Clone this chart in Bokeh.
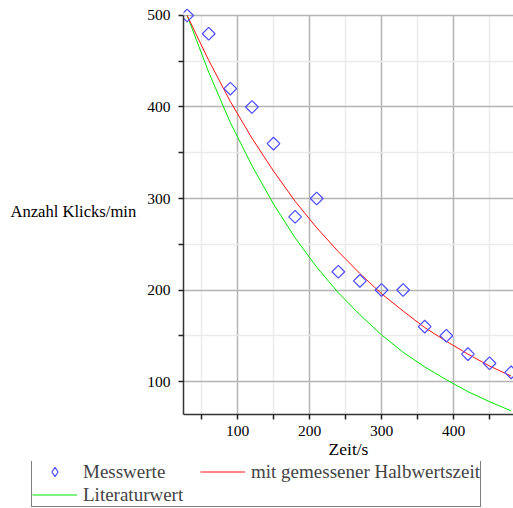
import math
from bokeh.plotting import figure
from bokeh.models import (FixedTicker, Legend, LegendItem, Range1d)
from bokeh.embed import file_html
from bokeh.resources import INLINE

# --- data ---
zeit = [30, 60, 90, 120, 150, 180, 210, 240, 270, 300, 330, 360, 390, 420, 450, 480]
messwerte = [500, 480, 420, 400, 360, 280, 300, 220, 210, 200, 200, 160, 150, 130, 120, 110]
gemessen = [500, 451, 406, 366, 330, 297, 268, 242, 218, 196, 177, 159, 144, 130, 117, 106]
literatur = [500, 438, 383, 336, 294, 257, 225, 197, 173, 151, 132, 116, 102, 89, 78, 68]

x_major = [100, 200, 300, 400]
x_minor = [50, 150, 250, 350, 450]
y_major = [100, 200, 300, 400, 500]
y_minor = [150, 250, 350, 450]

label_messwerte = "Messwerte"
label_gemessen = "mit gemessener Halbwertszeit"
label_literatur = "Literaturwert"
x_title = "Zeit/s"
y_title = "Anzahl Klicks/min"

FONT = "Liberation Serif"
BLUE = "#4b4bff"
RED = "#ff1010"
GREEN = "#00e600"
X0, X1, Y0, Y1 = 25, 483.3, 64, 507.6

MARKER = dict(marker="square", angle=math.pi / 4, size=9,
              fill_color=None, line_color=BLUE, line_width=1.2)

p = figure(width=513, height=461, output_backend="svg", toolbar_location=None,
           x_range=Range1d(X0, X1), y_range=Range1d(Y0, Y1),
           min_border_left=183, min_border_right=0, min_border_top=8,
           min_border_bottom=46)
p.outline_line_color = None
p.background_fill_color = "white"
p.border_fill_color = "white"

# axes
for ax in (p.xaxis[0], p.yaxis[0]):
    ax.axis_line_color = "#333333"
    ax.axis_line_width = 1.5
    ax.major_tick_line_color = "#222222"
    ax.minor_tick_line_color = "#222222"
    ax.major_tick_line_width = 1.5
    ax.minor_tick_line_width = 1.5
    ax.major_tick_in = 0
    ax.minor_tick_in = 0
    ax.major_tick_out = 5
    ax.minor_tick_out = 5
    ax.major_label_text_font = FONT
    ax.major_label_text_font_size = "15.5px"
    ax.major_label_text_color = "black"
    ax.axis_label_text_font = FONT
    ax.axis_label_text_font_style = "normal"
    ax.axis_label_text_color = "black"

p.xaxis[0].ticker = FixedTicker(ticks=x_major, minor_ticks=x_minor)
p.yaxis[0].ticker = FixedTicker(ticks=y_major, minor_ticks=y_minor)
p.yaxis[0].bounds = (Y0, 500)
p.xaxis[0].major_label_standoff = 6
p.yaxis[0].major_label_standoff = 8

p.xaxis[0].axis_label = x_title
p.xaxis[0].axis_label_text_font_size = "17.5px"
p.xaxis[0].axis_label_standoff = 0

p.yaxis[0].axis_label = y_title
p.yaxis[0].axis_label_text_font_size = "16.6px"
p.yaxis[0].axis_label_standoff = 8
try:
    p.yaxis[0].axis_label_orientation = "horizontal"
except Exception:
    pass

# grids
for g in (p.xgrid[0], p.ygrid[0]):
    g.grid_line_color = "#b4b4b4"
    g.grid_line_width = 1.5
    g.minor_grid_line_color = "#ebebeb"
    g.minor_grid_line_width = 1.5
try:
    p.xgrid[0].cross_bounds = (Y0, 500)
except Exception:
    pass

# data
p.line(zeit, literatur, line_color=GREEN, line_width=1)
p.line(zeit, gemessen, line_color=RED, line_width=1)
p.scatter(zeit, messwerte, **MARKER)

# legend strip below the plot: same series, drawn muted (invisible) here,
# only their legend swatches show
q = figure(width=513, height=47, output_backend="svg", toolbar_location=None,
           x_range=Range1d(X0, X1), y_range=Range1d(Y0, Y1),
           x_axis_type=None, y_axis_type=None,
           min_border_left=0, min_border_right=0, min_border_top=0,
           min_border_bottom=0)
q.outline_line_color = None
q.xgrid.visible = False
q.ygrid.visible = False
l_mess = q.scatter(zeit, messwerte, marker="diamond", size=9,
                   fill_color=None, line_color=BLUE, line_width=1.2,
                   muted_alpha=0)
l_gem = q.line(zeit, gemessen, line_color=RED, line_width=1, muted_alpha=0)
l_lit = q.line(zeit, literatur, line_color=GREEN, line_width=1, muted_alpha=0)
for r in (l_mess, l_gem, l_lit):
    r.muted = True

legend = Legend(items=[LegendItem(label=label_messwerte, renderers=[l_mess]),
                       LegendItem(label=label_gemessen, renderers=[l_gem]),
                       LegendItem(label=label_literatur, renderers=[l_lit])],
                location=(31, 1), orientation="horizontal", ncols=2,
                glyph_width=45, glyph_height=23, label_height=18,
                label_width=117, label_standoff=6, spacing=-1, padding=0,
                margin=0, click_policy="none",
                label_text_font=FONT, label_text_font_size="19px",
                label_text_baseline="middle",
                border_line_color="black", border_line_width=1,
                background_fill_color="white", background_fill_alpha=1)
q.add_layout(legend, "center")

open("out.html", "w").write(file_html([p, q], INLINE))
